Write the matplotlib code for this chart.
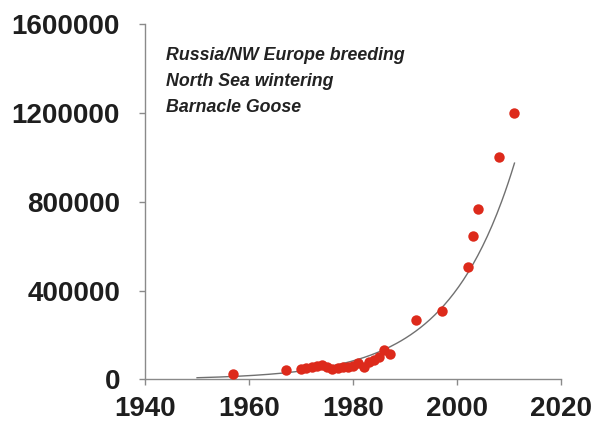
import matplotlib
matplotlib.use('Agg')
import matplotlib.pyplot as plt
import numpy as np

# Barnacle Goose counts (Russia/NW Europe breeding, North Sea wintering)
years = [1957, 1967, 1970, 1971, 1972, 1973, 1974, 1975, 1976, 1977, 1978,
         1979, 1980, 1981, 1982, 1983, 1984, 1985, 1986, 1987,
         1992, 1997, 2002, 2003, 2004, 2008, 2011]
counts = [25000, 41000, 46000, 50000, 55000, 60000, 65000, 58000, 47000,
          50000, 55000, 58000, 61000, 73000, 58000, 80000, 88000, 103000,
          133000, 115000,
          268000, 308000, 504000, 644000, 767000, 1001000, 1198000]

xticks = [1940, 1960, 1980, 2000, 2020]
yticks = [0, 400000, 800000, 1200000, 1600000]
title_lines = ['Russia/NW Europe breeding', 'North Sea wintering', 'Barnacle Goose']

plt.rcParams['font.family'] = ['Liberation Sans', 'DejaVu Sans']

fig = plt.figure(figsize=(5.96, 4.26), dpi=100)
ax = fig.add_axes([0.2433, 0.1092, 0.6985, 0.8345])

# exponential trend line (least squares on log counts, like a spreadsheet trendline)
yr = np.array(years, dtype=float)
b, a = np.polyfit(yr, np.log(counts), 1)
tfit = np.linspace(1950, max(years), 200)
ax.plot(tfit, np.exp(a + b * tfit), color='#707070', linewidth=1.0, zorder=2)

ax.plot(years, counts, 'o', color='#dd2a1b', markersize=7.5,
        markeredgewidth=0, zorder=3)

ax.set_xlim(1940, 2020)
ax.set_ylim(0, 1600000)
ax.set_xticks(xticks)
ax.set_yticks(yticks)
ax.set_xticklabels([str(t) for t in xticks])
ax.set_yticklabels([str(t) for t in yticks])

for s in ['top', 'right']:
    ax.spines[s].set_visible(False)
for s in ['left', 'bottom']:
    ax.spines[s].set_color('#8a8a8a')
    ax.spines[s].set_linewidth(1.0)

ax.tick_params(axis='both', direction='out', length=4, width=1.0,
               color='#8a8a8a', labelcolor='#1e1e1e', labelsize=20)
ax.tick_params(axis='y', pad=14)
ax.tick_params(axis='x', pad=8)
for lab in ax.get_xticklabels() + ax.get_yticklabels():
    lab.set_fontweight('bold')

ax.text(0.05, 0.935, '\n'.join(title_lines), transform=ax.transAxes,
        ha='left', va='top', fontsize=12.8, fontweight='bold', style='italic',
        color='#222222', linespacing=1.68)

fig.savefig('out.png', dpi=100, facecolor='white')
